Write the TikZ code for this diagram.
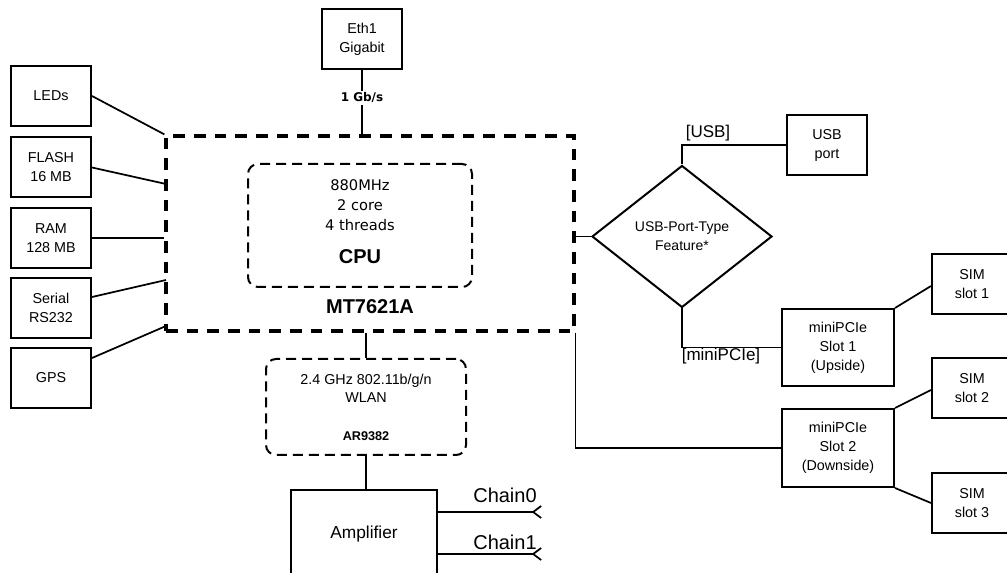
\documentclass[tikz,border=0pt]{standalone}
\usepackage{fontspec}
\setmainfont{Liberation Sans}
\newfontfamily\dvs{DejaVu Sans}
\usetikzlibrary{shapes.geometric,arrows.meta}
\begin{document}
\begin{tikzpicture}[x=0.75pt,y=-0.75pt,
  box/.style={draw,line width=1.5pt,minimum width=60pt,minimum height=45pt,align=center,
    font=\fontsize{10.75}{14.25}\selectfont,inner sep=0pt},
  conn/.style={line width=1.3pt},
  outerdash/.style={draw,line width=2.4pt,dash pattern=on 8.75pt off 6.75pt},
  innerdash/.style={draw,line width=1.5pt,dash pattern=on 7.5pt off 4.5pt,rounded corners=7.5pt},
  lbl/.style={inner sep=0pt,align=center},
  chaintip/.style={-{Straight Barb[reversed,length=6pt,width=9pt,line width=1.3pt]}}
]
\useasboundingbox (0,0) rectangle (1007,573);
\clip (0,0) rectangle (1007,573);
\fill[white] (0,0) rectangle (1007,573);

% main chip
\node[outerdash,minimum width=306pt,minimum height=146.25pt,inner sep=0pt] (mt) at (370,233.5) {};
\node[innerdash,minimum width=168pt,minimum height=92.25pt,inner sep=0pt] (cpu) at (360,225.5) {};
\node[lbl,font=\dvs\fontsize{11}{15}\selectfont] (cputxt) at (360,205) {880MHz\\2 core\\4 threads};
\node[lbl,font=\fontsize{15}{18}\bfseries\selectfont] (cpulbl) at (360,257) {CPU};
\node[lbl,font=\fontsize{15}{18}\bfseries\selectfont] (mtlbl) at (370,307) {MT7621A};

% Eth1
\node[box] (eth) at (362,39) {Eth1\\Gigabit};
\draw[conn] (eth.south) -- (eth.south |- mt.north);
\node[lbl,fill=white,inner sep=1.5pt,font=\dvs\fontsize{9}{11}\bfseries\selectfont] (gbs) at (362,98) {1 Gb/s};

% left boxes
\node[box] (leds) at (51,96) {LEDs};
\node[box] (flash) at (51,167.5) {FLASH\\16 MB};
\node[box] (ram) at (51,238) {RAM\\128 MB};
\node[box] (serial) at (51,308) {Serial\\RS232};
\node[box] (gps) at (51,378) {GPS};
\coordinate (mfl) at (166,184);
\coordinate (mse) at (166,280);
\coordinate (mgp) at (166,326);
\draw[conn] (leds.east) -- (mt.north west);
\draw[conn] (flash.east) -- (mfl);
\draw[conn] (ram.east) -- (ram.east -| mt.west);
\draw[conn] ([yshift=8.25pt]serial.east) -- (mse);
\draw[conn] ([yshift=15pt]gps.east) -- (mgp);

% WLAN
\node[innerdash,minimum width=150pt,minimum height=72pt,inner sep=0pt] (wlan) at (366,407) {};
\node[lbl,font=\fontsize{10.75}{13.5}\selectfont] (wlantxt) at (366,388) {2.4 GHz 802.11b/g/n\\WLAN};
\node[lbl,font=\fontsize{9.5}{11}\bfseries\selectfont] (ar) at (366,436) {AR9382};
\draw[conn] (wlan.north) -- (wlan.north |- mt.south);

% Amplifier
\node[box,minimum width=109.5pt,minimum height=66pt,font=\fontsize{13}{15}\selectfont] (amp) at (364,534) {Amplifier};
\draw[conn] (wlan.south) -- (wlan.south |- amp.north);
\coordinate (c0) at (542,512);
\coordinate (c1) at (542,554);
\draw[conn,chaintip] (amp.east |- c0) -- (c0);
\draw[conn,chaintip] (amp.east |- c1) -- (c1);
\node[lbl,font=\fontsize{15}{18}\selectfont] (ch0) at (505,495) {Chain0};
\node[lbl,font=\fontsize{15}{18}\selectfont] (ch1) at (505,542) {Chain1};

% diamond
\node[diamond,draw,line width=1.5pt,minimum width=135pt,minimum height=106.5pt,inner sep=0pt,align=center,
  font=\fontsize{10.5}{14.25}\selectfont] (dia) at (682,236.5) {USB-Port-Type\\Feature*};
\draw[conn] (mt.east |- dia.west) -- (dia.west);

\node[box] (usb) at (827,145) {USB\\port};
\draw[conn] (dia.north) |- (usb.west);
\node[lbl,font=\fontsize{12.75}{15}\selectfont] (usblbl) at (708,133) {[USB]};

\node[box,minimum width=84pt,minimum height=57.75pt] (slot1) at (838,347.5) {miniPCIe\\Slot 1\\(Upside)};
\node[box,minimum width=84pt,minimum height=58.5pt] (slot2) at (838,448) {miniPCIe\\Slot 2\\(Downside)};
\draw[conn] (dia.south) |- (slot1.west);
\node[lbl,font=\fontsize{12.75}{15}\selectfont] (pcilbl) at (721,356) {[miniPCIe]};
\draw[conn] (mt.south east) |- (slot2.west);

\node[box] (sim1) at (972,284) {SIM\\slot 1};
\node[box] (sim2) at (972,388) {SIM\\slot 2};
\node[box] (sim3) at (972,503) {SIM\\slot 3};
\draw[conn] (slot1.north east) -- ([yshift=-1.5pt]sim1.west);
\draw[conn] (slot2.north east) -- ([yshift=-1.5pt]sim2.west);
\draw[conn] (slot2.south east) -- (sim3.west);
\end{tikzpicture}
\end{document}
